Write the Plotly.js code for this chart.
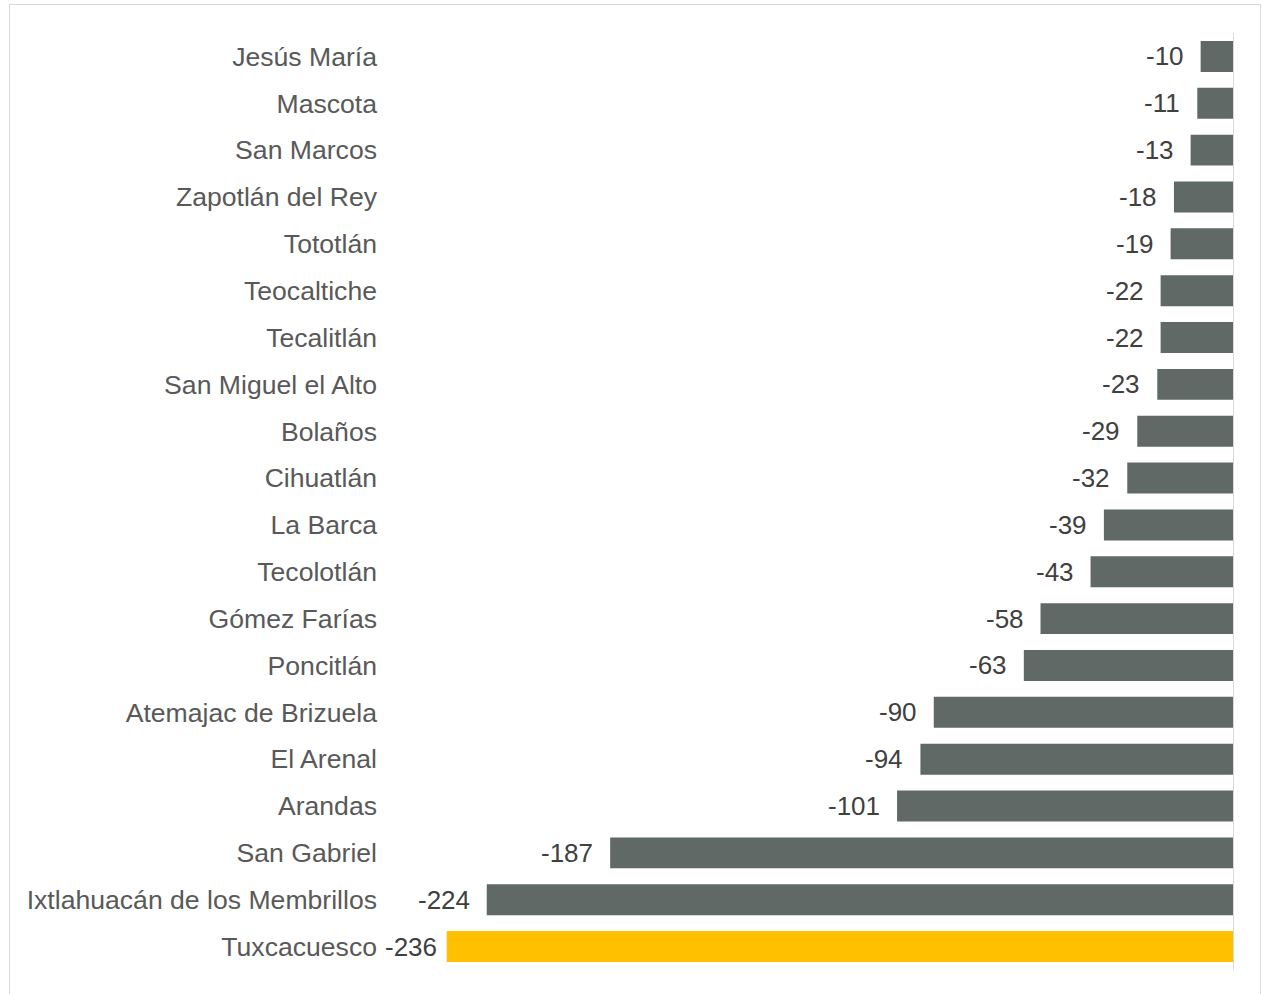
<!DOCTYPE html>
<html>
<head>
<meta charset="utf-8">
<script src="https://cdn.plot.ly/plotly-3.0.1.min.js"></script>
<style>
  html, body { margin: 0; padding: 0; background: #fff; }
  #frame { position: absolute; left: 9px; top: 4px; width: 1252px; height: 1000px;
           border: 1px solid #d9d9d9; box-sizing: border-box; }
  #chart { position: absolute; left: 0; top: 0; width: 1262px; height: 994px; }
</style>
</head>
<body>
<div id="frame"></div>
<div id="chart"></div>
<script>
const municipios = [
  "Jesús María", "Mascota", "San Marcos", "Zapotlán del Rey", "Tototlán",
  "Teocaltiche", "Tecalitlán", "San Miguel el Alto", "Bolaños", "Cihuatlán",
  "La Barca", "Tecolotlán", "Gómez Farías", "Poncitlán", "Atemajac de Brizuela",
  "El Arenal", "Arandas", "San Gabriel", "Ixtlahuacán de los Membrillos", "Tuxcacuesco"
];
const valores = [-10, -11, -13, -18, -19, -22, -22, -23, -29, -32,
                 -39, -43, -58, -63, -90, -94, -101, -187, -224, -236];
const destacado = "Tuxcacuesco";

const C = { bar: "#606966", hi: "#FFC000", label: "#595959", value: "#404040",
            axis: "#d9d9d9", font: "Liberation Sans, Arial, sans-serif" };

const colores = municipios.map(m => m === destacado ? C.hi : C.bar);
const last = municipios.length - 1;

const data = [{
  type: "bar", orientation: "h",
  x: valores, y: municipios,
  marker: { color: colores },
  hoverinfo: "skip",
}];

const annotations = valores.map((v, i) => ({
  x: v, y: municipios[i], xref: "x", yref: "y",
  text: String(v), showarrow: false, xanchor: "right",
  xshift: i === last ? -8 : -15,
  font: { family: C.font, size: 26, color: C.value },
}));

const layout = {
  width: 1262, height: 994,
  paper_bgcolor: "rgba(0,0,0,0)", plot_bgcolor: "rgba(0,0,0,0)",
  margin: { l: 400, r: 28, t: 33, b: 24 },
  showlegend: false,
  bargap: 0.34,
  font: { family: C.font, size: 26, color: C.label },
  xaxis: { range: [-250, 0], visible: false, fixedrange: true },
  yaxis: { type: "category", autorange: "reversed", showgrid: false,
           zeroline: false, showline: false, ticks: "",
           ticklabelstandoff: 22,
           tickfont: { family: C.font, size: 26.6, color: C.label } },
  shapes: [{ type: "line", xref: "x", yref: "paper", x0: 0, x1: 0, y0: 0, y1: 1,
             line: { color: C.axis, width: 2 } }],
  annotations,
};

Plotly.newPlot("chart", data, layout, { displayModeBar: false, staticPlot: true });
</script>
</body>
</html>
